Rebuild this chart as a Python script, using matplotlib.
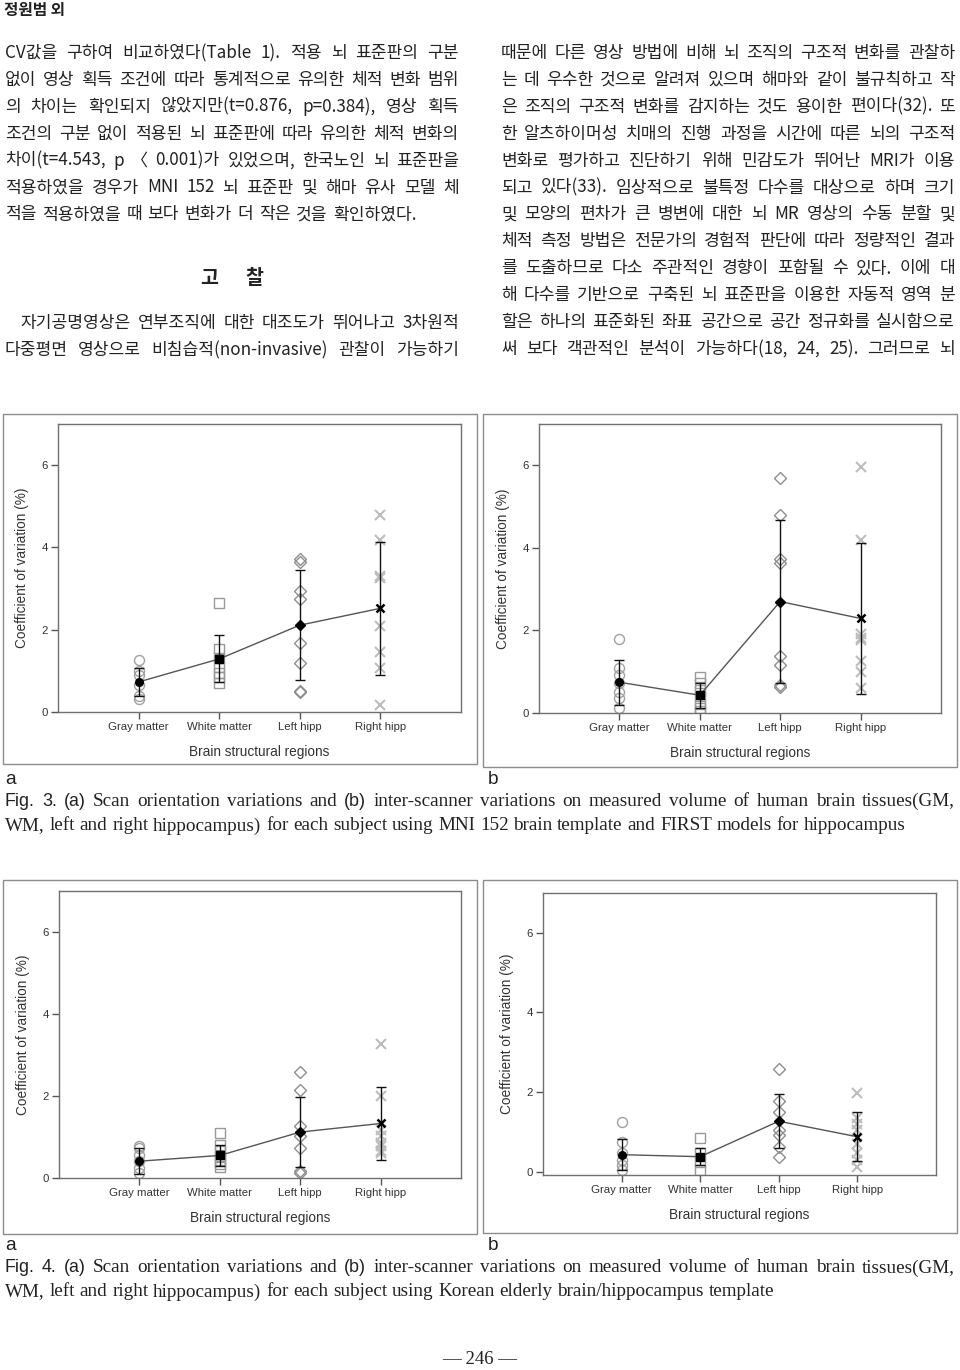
import matplotlib
matplotlib.use('Agg')
import matplotlib.pyplot as plt
from matplotlib.patches import Rectangle

W, H = 960, 1370
fig = plt.figure(figsize=(W / 100, H / 100), dpi=100)
fig.patch.set_facecolor('white')
renderer = fig.canvas.get_renderer()

# ---------------- data ----------------
regions = ['Gray matter', 'White matter', 'Left hipp', 'Right hipp']
yticks = [0, 2, 4, 6]

# Fig. 3a
f3a_gm = [1.27, 1.00, 0.90, 0.66, 0.38, 0.32]
f3a_wm = [2.64, 1.53, 1.31, 1.10, 0.95, 0.85, 0.70]
f3a_lh = [3.72, 3.65, 2.94, 2.75, 1.67, 1.19, 0.52, 0.48]
f3a_rh = [4.80, 4.18, 3.31, 3.25, 2.10, 1.45, 1.07, 0.18]
f3a_mean = [0.73, 1.29, 2.11, 2.52]
f3a_sd = [0.35, 0.57, 1.33, 1.61]

# Fig. 3b
f3b_gm = [1.80, 1.08, 0.92, 0.72, 0.52, 0.36, 0.11]
f3b_wm = [0.86, 0.72, 0.56, 0.40, 0.23, 0.11, 0.05]
f3b_lh = [5.68, 4.79, 3.72, 3.64, 1.37, 1.17, 0.67, 0.64]
f3b_rh = [5.95, 4.20, 1.92, 1.81, 1.77, 1.27, 0.99, 0.60]
f3b_mean = [0.745, 0.43, 2.70, 2.29]
f3b_sd = [0.55, 0.30, 1.98, 1.82]

# Fig. 4a
f4a_gm = [0.79, 0.73, 0.57, 0.41, 0.24, 0.12]
f4a_wm = [1.10, 0.81, 0.65, 0.54, 0.45, 0.33, 0.28]
f4a_lh = [2.59, 2.15, 1.26, 1.02, 0.73, 0.16, 0.12]
f4a_rh = [3.27, 1.99, 1.18, 1.02, 0.85, 0.77, 0.65, 0.61]
f4a_mean = [0.41, 0.55, 1.12, 1.33]
f4a_sd = [0.31, 0.26, 0.86, 0.90]

# Fig. 4b
f4b_gm = [1.24, 0.75, 0.46, 0.29, 0.17, 0.04]
f4b_wm = [0.85, 0.46, 0.25, 0.04]
f4b_lh = [2.58, 1.77, 1.50, 1.06, 0.92, 0.63, 0.38]
f4b_rh = [1.98, 1.34, 1.21, 1.04, 0.71, 0.46, 0.29, 0.13]
f4b_mean = [0.43, 0.38, 1.27, 0.88]
f4b_sd = [0.39, 0.21, 0.68, 0.62]

left_col = [
    "CV값을 구하여 비교하였다(Table 1). 적용 뇌 표준판의 구분",
    "없이 영상 획득 조건에 따라 통계적으로 유의한 체적 변화 범위",
    "의 차이는 확인되지 않았지만(t=0.876, p=0.384), 영상 획득",
    "조건의 구분 없이 적용된 뇌 표준판에 따라 유의한 체적 변화의",
    "차이(t=4.543, p 〈 0.001)가 있었으며, 한국노인 뇌 표준판을",
    "적용하였을 경우가 MNI 152 뇌 표준판 및 해마 유사 모델 체",
    "적을 적용하였을 때 보다 변화가 더 작은 것을 확인하였다.",
]
left_col2 = [
    "자기공명영상은 연부조직에 대한 대조도가 뛰어나고 3차원적",
    "다중평면 영상으로 비침습적(non-invasive) 관찰이 가능하기",
]
right_col = [
    "때문에 다른 영상 방법에 비해 뇌 조직의 구조적 변화를 관찰하",
    "는 데 우수한 것으로 알려져 있으며 해마와 같이 불규칙하고 작",
    "은 조직의 구조적 변화를 감지하는 것도 용이한 편이다(32). 또",
    "한 알츠하이머성 치매의 진행 과정을 시간에 따른 뇌의 구조적",
    "변화로 평가하고 진단하기 위해 민감도가 뛰어난 MRI가 이용",
    "되고 있다(33). 임상적으로 불특정 다수를 대상으로 하며 크기",
    "및 모양의 편차가 큰 병변에 대한 뇌 MR 영상의 수동 분할 및",
    "체적 측정 방법은 전문가의 경험적 판단에 따라 정량적인 결과",
    "를 도출하므로 다소 주관적인 경향이 포함될 수 있다. 이에 대",
    "해 다수를 기반으로 구축된 뇌 표준판을 이용한 자동적 영역 분",
    "할은 하나의 표준화된 좌표 공간으로 공간 정규화를 실시함으로",
    "써 보다 객관적인 분석이 가능하다(18, 24, 25). 그러므로 뇌",
]
cap3 = ["Fig. 3. (a) Scan orientation variations and (b) inter-scanner variations on measured volume of human brain tissues(GM,",
        "WM, left and right hippocampus) for each subject using MNI 152 brain template and FIRST models for hippocampus"]
cap4 = ["Fig. 4. (a) Scan orientation variations and (b) inter-scanner variations on measured volume of human brain tissues(GM,",
        "WM, left and right hippocampus) for each subject using Korean elderly brain/hippocampus template"]

# ---------------- text helpers ----------------
KR = dict(family=['Noto Sans CJK KR', 'DejaVu Sans'], color='#222222')
SERIF = dict(family=['Liberation Serif', 'DejaVu Serif'], color='#222222')
SANS = dict(family=['Liberation Sans', 'DejaVu Sans'], color='#222222')


def tw(s, **kw):
    t = fig.text(0, 0, s, **kw)
    w = t.get_window_extent(renderer).width
    t.remove()
    return w


def put_line(words, x0, x1, y, justify=True, gap_min=None):
    widths = [tw(w, **k) for w, k in words]
    k0 = words[0][1]
    space = tw('a a', **k0) - tw('aa', **k0)
    if gap_min is not None:
        space = max(space, gap_min)
    if justify and len(words) > 1:
        gap = (x1 - x0 - sum(widths)) / (len(words) - 1)
    else:
        gap = space
    x = x0
    for (w, k), wd in zip(words, widths):
        fig.text(x / W, 1 - y / H, w, ha='left', va='center', **k)
        x += wd + gap


def kr_line(s, x0, x1, y, size, justify=True):
    words = s.split(' ')
    # shrink only this line if its words would not fit with a minimal gap
    tot = sum(tw(w, **dict(KR, fontsize=size)) for w in words) + 3 * (len(words) - 1)
    if tot > (x1 - x0):
        size = size * (x1 - x0) / tot
    put_line([(w, dict(KR, fontsize=size)) for w in words], x0, x1, y, justify,
             gap_min=size * 0.45)


def cap_words(s, size):
    out = []
    for w in s.split(' '):
        if w in ('Fig.', '3.', '4.', '(a)', '(b)'):
            out.append((w, dict(SANS, fontsize=size * 0.93)))
        else:
            out.append((w, dict(SERIF, fontsize=size)))
    return out


# ---------------- header & body text ----------------
fig.text(4 / W, 1 - 10 / H, '정원범 외', ha='left', va='center', fontweight='bold',
         fontsize=11.3, **KR)

kr_size = 12.3
pitch = 26.9
for i, s in enumerate(left_col):
    kr_line(s, 5, 459, 53 + i * pitch, kr_size, justify=(i < len(left_col) - 1))

fig.text(209 / W, 1 - 279 / H, '고', ha='center', va='center', fontweight='bold',
         fontsize=14, **KR)
fig.text(254 / W, 1 - 279 / H, '찰', ha='center', va='center', fontweight='bold',
         fontsize=14, **KR)

kr_line(left_col2[0], 20, 459, 323, kr_size)
kr_line(left_col2[1], 5, 459, 350, kr_size)

for i, s in enumerate(right_col):
    kr_line(s, 501, 955, 53 + i * pitch, kr_size)


# ---------------- panels ----------------
def panel(ax_px, frame_px, groups, means, sds, ylim):
    l, r, t, b = ax_px
    fx0, fx1, fy0, fy1 = frame_px
    fig.patches.append(Rectangle((fx0 / W, 1 - fy1 / H), (fx1 - fx0) / W, (fy1 - fy0) / H,
                                 transform=fig.transFigure, fill=False, ec='#8c8c8c', lw=1.0))
    ax = fig.add_axes([l / W, 1 - b / H, (r - l) / W, (b - t) / H])
    xs = [1, 2, 3, 4]
    styles = [dict(marker='o', ms=7.2, mec='#a0a0a0', mfc='none', mew=1.0),
              dict(marker='s', ms=6.5, mec='#999999', mfc='none', mew=1.0),
              dict(marker='D', ms=6.5, mec='#8e8e8e', mfc='none', mew=1.0),
              dict(marker='x', ms=7.0, mec='#bdbdbd', mew=1.5)]
    for x, g, st in zip(xs, groups, styles):
        ax.plot([x] * len(g), g, ls='none', zorder=2, **st)
    ax.errorbar(xs, means, yerr=sds, fmt='none', ecolor='#111111', elinewidth=1.0,
                capsize=3.5, capthick=1.0, zorder=3)
    ax.plot(xs, means, color='#555555', lw=1.0, zorder=4)
    mstyles = [dict(marker='o', ms=5.5), dict(marker='s', ms=5.5),
               dict(marker='D', ms=5.0), dict(marker='x', ms=5.5, mew=1.8)]
    for x, m, st in zip(xs, means, mstyles):
        ax.plot([x], [m], ls='none', color='black', mfc='black', mec='black', zorder=5, **st)
    ax.set_xlim(0, 5)
    ax.set_ylim(*ylim)
    ax.set_xticks(xs)
    ax.set_xticklabels(regions)
    ax.set_yticks(yticks)
    for sp in ax.spines.values():
        sp.set_color('#707070')
        sp.set_linewidth(1.0)
    ax.tick_params(direction='out', length=5, width=1, color='#555555', labelcolor='#333333',
                   labelsize=8.2, pad=2.5)
    for lab in ax.get_xticklabels() + ax.get_yticklabels():
        lab.set_family(['Liberation Sans', 'DejaVu Sans'])
    ax.set_xlabel('Brain structural regions', fontsize=9.8, color='#333333',
                  family=['Liberation Sans', 'DejaVu Sans'], labelpad=9)
    ax.set_ylabel('Coefficient of variation (%)', fontsize=9.8, color='#333333',
                  family=['Liberation Sans', 'DejaVu Sans'], labelpad=9)
    return ax


panel((58, 461, 424, 712), (3, 477, 414, 764),
      [f3a_gm, f3a_wm, f3a_lh, f3a_rh], f3a_mean, f3a_sd, (0, 7))
panel((539, 941, 424, 713), (483, 957, 414, 767),
      [f3b_gm, f3b_wm, f3b_lh, f3b_rh], f3b_mean, f3b_sd, (0, 7))
panel((59, 461, 891, 1178), (3, 477, 880, 1234),
      [f4a_gm, f4a_wm, f4a_lh, f4a_rh], f4a_mean, f4a_sd, (0, 7))
panel((543, 936, 893, 1175), (483, 957, 880, 1233),
      [f4b_gm, f4b_wm, f4b_lh, f4b_rh], f4b_mean, f4b_sd, (-0.08, 7))

# ---------------- captions ----------------
cap_size = 10.0
wref = sum(tw(w, **k) for w, k in cap_words(cap4[1], cap_size))
nw = len(cap4[1].split(' ')) - 1
sp = tw('a a', **dict(SERIF, fontsize=cap_size)) - tw('aa', **dict(SERIF, fontsize=cap_size))
cap_size = cap_size * 771 / (wref + nw * sp)

for (ya, y1, y2), cap in (((779, 801, 826), cap3), ((1246, 1268, 1292), cap4)):
    fig.text(5 / W, 1 - ya / H, 'a', ha='left', va='center', fontsize=cap_size, **SANS)
    fig.text(488 / W, 1 - ya / H, 'b', ha='left', va='center', fontsize=cap_size, **SANS)
    put_line(cap_words(cap[0], cap_size), 5, 955, y1, justify=True)
    put_line(cap_words(cap[1], cap_size), 5, 955, y2, justify=False)

fig.text(480 / W, 1 - 1360 / H, '\u2014 246 \u2014', ha='center', va='center', fontsize=13.5,
         **SERIF)

fig.savefig('out.png', dpi=100, facecolor='white')
